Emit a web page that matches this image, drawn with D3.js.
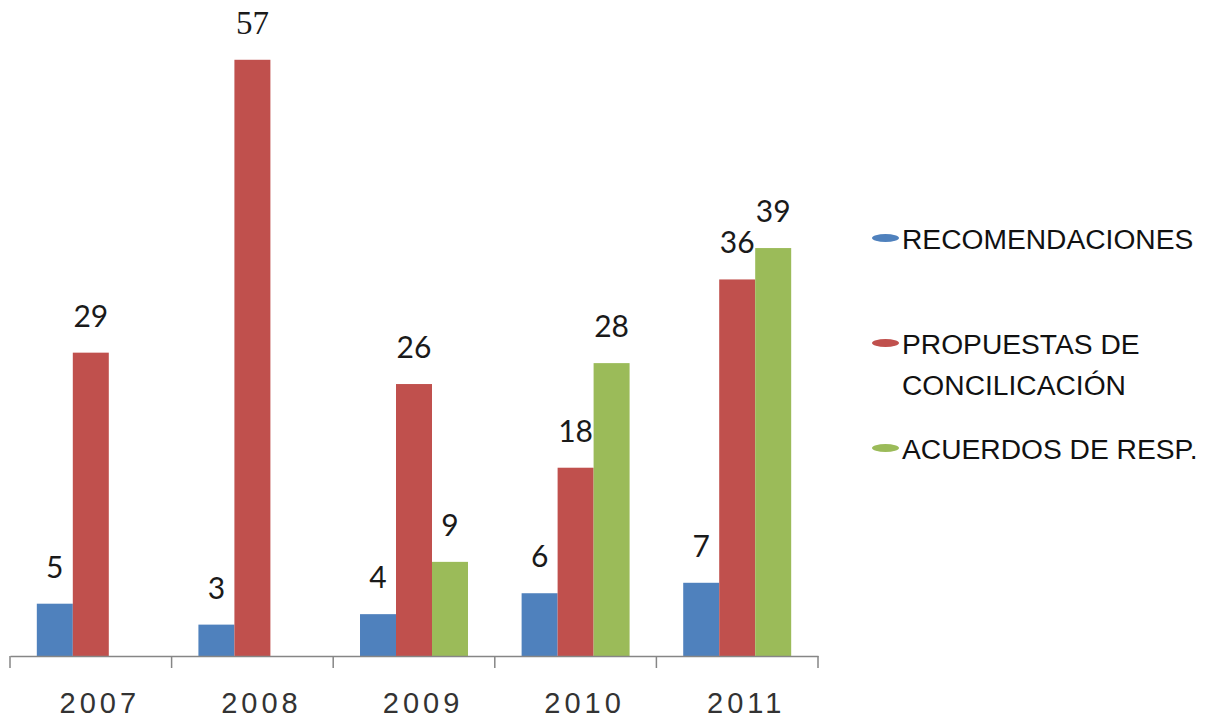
<!DOCTYPE html>
<html>
<head>
<meta charset="utf-8">
<script src="https://cdn.jsdelivr.net/npm/d3@7"></script>
<style>
  body { margin: 0; background: #fff; }
  svg { display: block; }
</style>
</head>
<body>
<div id="chart"></div>
<script>
// Datos del gráfico
var years = ["2007", "2008", "2009", "2010", "2011"];
var seriesNames = ["RECOMENDACIONES", "PROPUESTAS DE CONCILICACIÓN", "ACUERDOS DE RESP."];
var recomendaciones = [5, 3, 4, 6, 7];
var propuestas = [29, 57, 26, 18, 36];
var acuerdos = [null, null, 9, 28, 39];

var colors = ["#4F81BD", "#C0504D", "#9BBB59"];
var seriesValues = [recomendaciones, propuestas, acuerdos];

var width = 1209, height = 723;
var base = 656;

var svg = d3.select("#chart").append("svg")
  .attr("width", width)
  .attr("height", height);

svg.append("rect").attr("width", width).attr("height", height).attr("fill", "#fff");

// Escalas
var x0 = d3.scaleBand().domain(years).range([10, 818]).paddingInner(0).paddingOuter(0);
var x1 = d3.scaleBand().domain(d3.range(seriesNames.length))
  .range([0, x0.bandwidth()]).paddingInner(0).paddingOuter(0.745);
var y = d3.scaleLinear().domain([0, 60]).range([base, 28.4]);

// Filas planas para las barras
var rows = [];
years.forEach(function (yr, i) {
  seriesValues.forEach(function (vals, s) {
    if (vals[i] != null) rows.push({ year: yr, s: s, v: vals[i] });
  });
});

svg.append("g").selectAll("rect")
  .data(rows)
  .enter().append("rect")
  .attr("x", function (d) { return x0(d.year) + x1(d.s); })
  .attr("y", function (d) { return y(d.v); })
  .attr("width", x1.bandwidth())
  .attr("height", function (d) { return base - y(d.v); })
  .attr("fill", function (d) { return colors[d.s]; });

// Etiquetas de valores (el 57 sale en otra fuente en el original)
svg.append("g").selectAll("text")
  .data(rows)
  .enter().append("text")
  .attr("x", function (d) { return x0(d.year) + x1(d.s) + x1.bandwidth() / 2; })
  .attr("y", function (d) { return y(d.v) - 26; })
  .attr("text-anchor", "middle")
  .attr("style", function (d) {
    return d.v === 57
      ? "font-family:'Liberation Serif',serif;font-size:33px"
      : "font-family:Lato,'Open Sans',sans-serif;font-size:30px";
  })
  .attr("fill", "#1a1a1a")
  .text(function (d) { return d.v; });

// Eje X
var axis = svg.append("g")
  .attr("transform", "translate(0," + base + ")")
  .call(d3.axisBottom(x0).tickSize(0).tickPadding(0));
axis.select(".domain").attr("stroke", "#868686").attr("stroke-width", 1.5);
axis.selectAll(".tick text")
  .attr("dx", 9)
  .attr("dy", 0)
  .attr("y", 57)
  .attr("font-family", "'Liberation Sans', Arial, sans-serif")
  .attr("font-size", 29)
  .attr("letter-spacing", 4)
  .attr("fill", "#333");

var bounds = years.map(function (yr) { return x0(yr); }).concat([x0.range()[1]]);
axis.selectAll(".bound")
  .data(bounds)
  .enter().append("line")
  .attr("class", "bound")
  .attr("x1", function (d) { return d; })
  .attr("x2", function (d) { return d; })
  .attr("y1", 0)
  .attr("y2", 12)
  .attr("stroke", "#868686")
  .attr("stroke-width", 1.5);

// Leyenda
var legendRows = [
  { lines: ["RECOMENDACIONES"], y: 249, my: 238 },
  { lines: ["PROPUESTAS DE", "CONCILICACIÓN"], y: 354, my: 343 },
  { lines: ["ACUERDOS DE RESP."], y: 459, my: 448 }
];

var legend = svg.append("g");
legendRows.forEach(function (r, i) {
  legend.append("ellipse")
    .attr("cx", 885.5)
    .attr("cy", r.my)
    .attr("rx", 13.5)
    .attr("ry", 4)
    .attr("fill", colors[i]);
  r.lines.forEach(function (t, j) {
    legend.append("text")
      .attr("x", 902)
      .attr("y", r.y + j * 41)
      .attr("font-family", "'Liberation Sans', Arial, sans-serif")
      .attr("font-size", 28.2)
      .attr("fill", "#111")
      .text(t);
  });
});
</script>
</body>
</html>
